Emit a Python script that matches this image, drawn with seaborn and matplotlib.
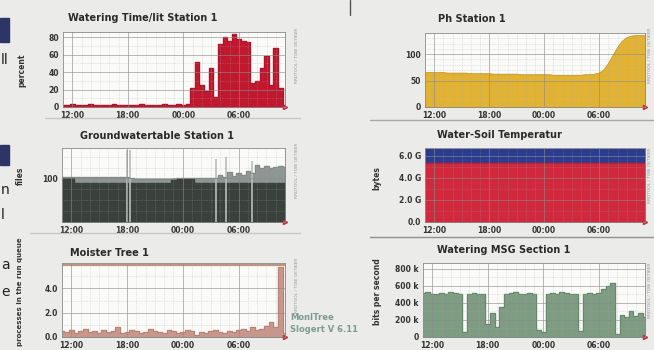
import numpy as np
import matplotlib
matplotlib.use("Agg")
import matplotlib.pyplot as plt
from matplotlib.lines import Line2D
from matplotlib.patches import Rectangle
from matplotlib.ticker import AutoMinorLocator
import seaborn as sns

# --- data (time axis = hours since 11:00, one value every 30 min) ---
hours = np.arange(0, 24.5, 0.5)
time_ticks = [1, 7, 13, 19]
time_labels = ["12:00", "18:00", "00:00", "06:00"]

watering = [2, 2, 3, 2, 2, 2, 3, 2, 2, 2, 2, 3, 2, 2, 2, 2, 2, 3, 2, 2,
            2, 2, 3, 2, 2, 3, 2, 4, 22, 52, 25, 18, 45, 12, 72, 80, 76, 84, 78, 76,
            75, 28, 30, 45, 58, 25, 68, 22, 2]

ph = [65, 65, 65, 65, 65, 64, 64, 64, 64, 64, 63, 63, 63, 63, 63, 62, 62, 62, 62, 62,
      62, 61, 61, 61, 61, 61, 61, 61, 60, 60, 60, 60, 60, 60, 60, 61, 61, 62, 64, 70,
      82, 97, 112, 124, 131, 134, 135, 135, 135]

ground_total = [104, 104, 104, 103, 103, 103, 103, 103, 103, 103, 103, 103, 103, 103, 103, 102,
                98, 98, 98, 98, 98, 98, 98, 98, 99, 100, 100, 100, 100, 100, 100, 101, 101, 102,
                108, 104, 115, 105, 112, 108, 118, 112, 130, 125, 128, 124, 126, 128, 126]
ground_base = [102, 102, 102, 89, 89, 89, 89, 89, 89, 89, 89, 89, 89, 89, 89, 89, 89, 89, 89, 89,
               89, 89, 89, 89, 98, 98, 98, 98, 98, 89, 89, 89, 89, 89, 89, 89, 89, 89, 89, 89,
               89, 89, 89, 89, 89, 89, 89, 89, 89]
ground_spike_hours = [7.0, 7.3, 16.6, 17.6, 20.4]
ground_spike_vals = [165, 165, 145, 150, 140]

temp_hours = [0, 24]
temp_red = [5.3, 5.3]
temp_blue = [6.6, 6.6]

moisture = [0.5, 0.4, 0.6, 0.3, 0.5, 0.7, 0.4, 0.5, 0.3, 0.6,
            0.4, 0.5, 0.8, 0.3, 0.4, 0.6, 0.5, 0.3, 0.4, 0.7,
            0.5, 0.4, 0.3, 0.6, 0.5, 0.3, 0.4, 0.6, 0.5, 0.2,
            0.4, 0.3, 0.5, 0.6, 0.4, 0.3, 0.5, 0.4, 0.6, 0.7,
            0.5, 0.8, 0.6, 0.7, 0.9, 1.2, 0.8, 5.8, 0.3]
moisture_max = [5.95, 5.95]

msg = [520, 530, 510, 500, 520, 510, 530, 520, 500, 60,
       510, 520, 500, 510, 150, 280, 120, 350, 510, 520,
       530, 510, 500, 520, 510, 80, 60, 500, 520, 510,
       530, 520, 510, 500, 70, 510, 520, 500, 520, 560,
       600, 640, 40, 260, 230, 300, 250, 280, 240]

W, H = 654, 350
sns.set_theme(style="white")
plt.rcParams['font.family'] = ['DejaVu Sans']

fig = plt.figure(figsize=(W / 100, H / 100), dpi=100)
fig.patch.set_facecolor("#ebebe9")


def panel(x0, y0, x1, y1):
    ax = fig.add_axes([x0 / W, 1 - y1 / H, (x1 - x0) / W, (y1 - y0) / H])
    ax.set_facecolor("#fafaf8")
    ax.set_xlim(0, 24)
    ax.set_xticks(time_ticks)
    ax.set_xticklabels(time_labels)
    ax.set_xticks(np.arange(0, 25, 1), minor=True)
    ax.yaxis.set_minor_locator(AutoMinorLocator(2))
    ax.set_axisbelow(False)
    ax.grid(which="major", color="#8a8a8a", lw=0.6, alpha=0.7)
    ax.grid(which="minor", color="#a8a8a8", lw=0.4, ls=(0, (1, 2)), alpha=0.8)
    ax.tick_params(labelsize=5.5, length=2, pad=1, colors="#333333")
    ax.tick_params(which="minor", length=1)
    for lab in ax.get_xticklabels() + ax.get_yticklabels():
        lab.set_fontweight("bold")
    for s in ax.spines.values():
        s.set_color("#888888")
        s.set_linewidth(0.6)
    ax.plot(1.0, 0, marker=">", ms=3, color="#c03040", transform=ax.transAxes, clip_on=False)
    return ax


def finish(ax):
    ax.set_xlabel("")
    ax.set_ylabel("")
    for lab in ax.get_xticklabels() + ax.get_yticklabels():
        lab.set_fontweight("bold")


def title(x, y, txt):
    fig.text(x / W, 1 - y / H, txt, fontsize=7, fontweight="bold", color="#2a2a2a", va="center")


def ylab(x, y, txt, size=5.5):
    fig.text(x / W, 1 - y / H, txt, fontsize=size, rotation=90, color="#333333",
             ha="center", va="center", fontweight="bold")


def rrd(x, y):
    fig.text(x / W, 1 - y / H, "RRDTOOL / TOBI OETIKER", fontsize=3.2, rotation=90,
             color="#999999", ha="center", va="center")


# panel 1 : watering time
ax = panel(63, 32, 285, 107)
sns.lineplot(x=hours, y=watering, ax=ax, color="#b0102a", lw=0.6, drawstyle="steps-mid")
ax.fill_between(hours, watering, step="mid", color="#c0182e")
ax.set_ylim(0, 86)
ax.set_yticks([0, 20, 40, 60, 80])
finish(ax)
title(68, 18, "Watering Time/lit Station 1")
ylab(22, 70, "percent")
rrd(297, 55)

# panel 2 : ph
ax = panel(425, 33, 645, 107)
sns.lineplot(x=hours, y=ph, ax=ax, color="#c89a20", lw=0.6)
ax.fill_between(hours, ph, color="#e2b232")
ax.set_ylim(0, 140)
ax.set_yticks([0, 50, 100])
ax.yaxis.set_minor_locator(AutoMinorLocator(5))
finish(ax)
title(438, 19, "Ph Station 1")
rrd(650, 55)

# panel 3 : groundwater table
ax = panel(62, 148, 285, 222)
ax.vlines(ground_spike_hours, 0, ground_spike_vals, color="#b8bdb9", lw=1.2)
sns.lineplot(x=hours, y=ground_total, ax=ax, color="#7f8884", lw=0.6, drawstyle="steps-mid")
ax.fill_between(hours, ground_total, step="mid", color="#8d9692")
ax.fill_between(hours, ground_base, step="mid", color="#3a403c")
ax.set_ylim(0, 170)
ax.set_yticks([100])
ax.set_yticks([25, 50, 75, 125, 150], minor=True)
finish(ax)
title(80, 136, "Groundwatertable Station 1")
ylab(20, 176, "files")
rrd(297, 170)

# panel 4 : water-soil temperature
ax = panel(425, 148, 645, 222)
ax.fill_between(temp_hours, temp_blue, color="#2c3c8e")
ax.fill_between(temp_hours, temp_red, color="#d0283c")
sns.lineplot(x=temp_hours, y=temp_red, ax=ax, color="#b81e30", lw=0.6)
ax.set_ylim(0, 6.7)
ax.set_yticks([0, 2, 4, 6])
ax.set_yticklabels(["0.0", "2.0 G", "4.0 G", "6.0 G"])
finish(ax)
title(437, 135, "Water-Soil Temperatur")
ylab(377, 178, "bytes")
rrd(650, 175)

# panel 5 : moisture
ax = panel(62, 263, 285, 337)
ax.fill_between(hours, moisture, step="mid", color="#c8968a")
sns.lineplot(x=hours, y=moisture, ax=ax, color="#b07a6e", lw=0.5, drawstyle="steps-mid")
sns.lineplot(x=temp_hours, y=moisture_max, ax=ax, color="#c09080", lw=1.6)
ax.set_ylim(0, 6.1)
ax.set_yticks([0, 2, 4])
ax.set_yticklabels(["0.0", "2.0", "4.0"])
finish(ax)
title(70, 253, "Moister Tree 1")
ylab(20, 292, "processes in the run queue", size=5)
rrd(297, 285)

# panel 6 : watering MSG
ax = panel(423, 263, 645, 337)
ax.fill_between(hours, msg, step="mid", color="#7d9c82")
sns.lineplot(x=hours, y=msg, ax=ax, color="#5f8466", lw=0.6, drawstyle="steps-mid")
ax.set_ylim(0, 870)
ax.set_yticks([0, 200, 400, 600, 800])
ax.set_yticklabels(["0", "200 k", "400 k", "600 k", "800 k"])
finish(ax)
title(437, 250, "Watering MSG Section 1")
ylab(377, 292, "bits per second")
rrd(650, 290)

# footer text
fig.text(290 / W, 1 - 318 / H, "MonITree", fontsize=6, fontweight="bold", color="#7e9a92", va="center")
fig.text(290 / W, 1 - 329 / H, "Slogert V 6.11", fontsize=6, fontweight="bold", color="#7e9a92", va="center")

# separators and page fragments
for (xa, xb, y, c) in [(45, 300, 118, "#c8c8c8"), (30, 300, 233, "#c8c8c8"),
                       (370, 654, 120, "#a8a8a8"), (370, 654, 237, "#909090")]:
    fig.add_artist(Line2D([xa / W, xb / W], [1 - y / H, 1 - y / H], color=c, lw=1))
fig.add_artist(Line2D([350 / W, 350 / W], [1, 1 - 15 / H], color="#555555", lw=1))
for (y0, y1) in [(18, 42), (145, 165)]:
    fig.add_artist(Rectangle((0, 1 - y1 / H), 9 / W, (y1 - y0) / H, color="#2c3566",
                             transform=fig.transFigure))
for (y, ch) in [(60, "ll"), (190, "n"), (215, "l"), (265, "a"), (292, "e")]:
    fig.text(1 / W, 1 - y / H, ch, fontsize=10, color="#222222", va="center")

fig.savefig("out.png", dpi=100, facecolor=fig.get_facecolor())
